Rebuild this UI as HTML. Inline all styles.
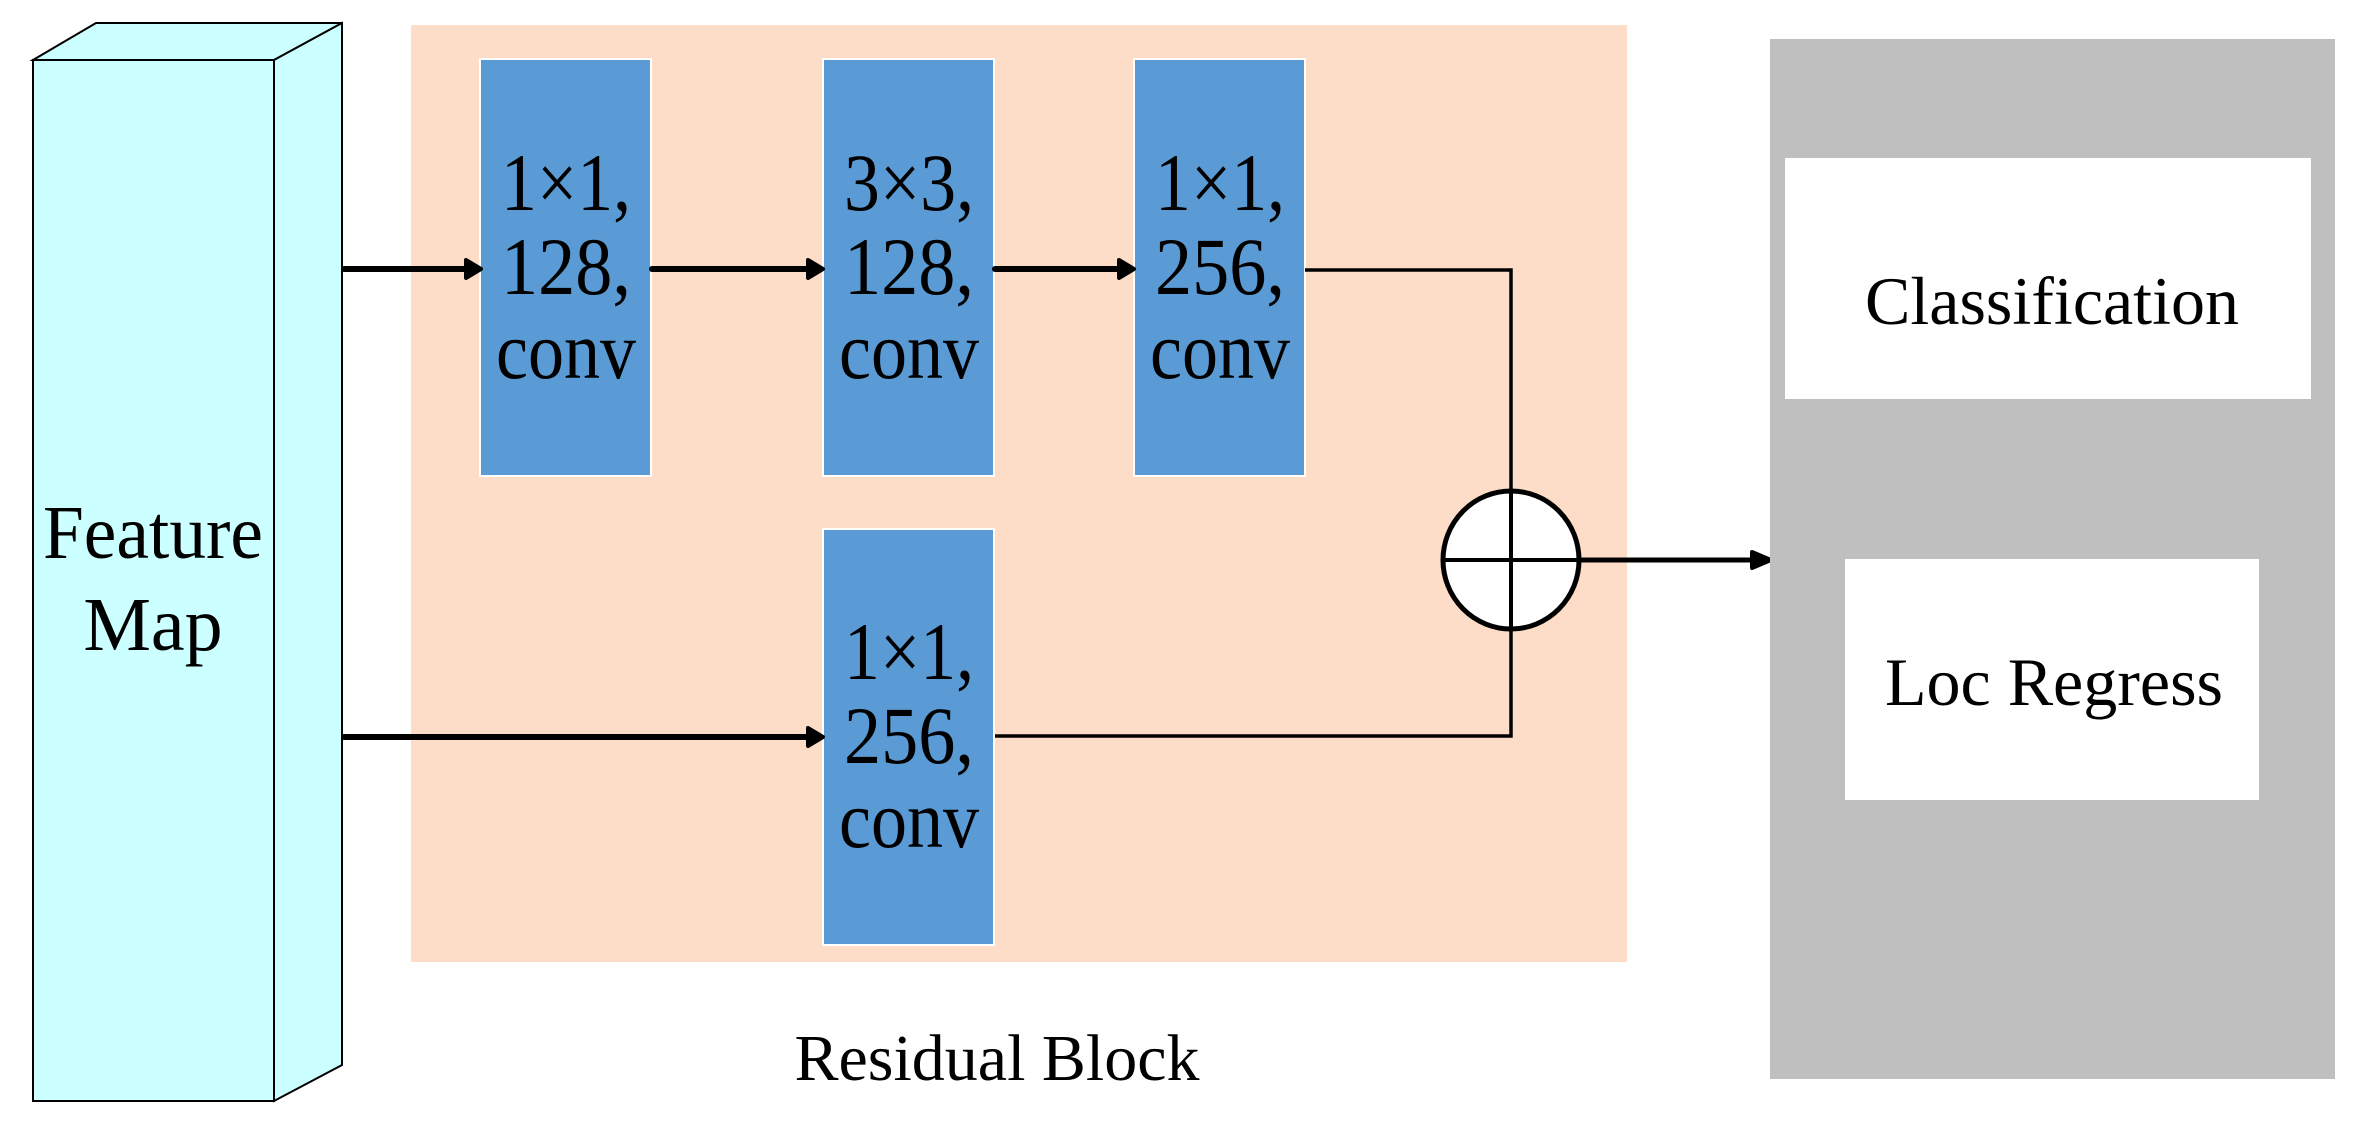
<!DOCTYPE html>
<html><head><meta charset="utf-8"><style>
html,body{margin:0;padding:0;background:#fff;}
svg{display:block;}
text{font-family:"Liberation Serif","Times New Roman",serif;fill:#000;}
</style></head><body>
<svg width="2358" height="1126" viewBox="0 0 2358 1126" xmlns="http://www.w3.org/2000/svg">
<!-- Feature map prism -->
<polygon points="33,60 96,23 342,23 274,60" fill="#ccffff" stroke="#000" stroke-width="2"/>
<polygon points="274,60 342,23 342,1065 274,1101" fill="#ccffff" stroke="#000" stroke-width="2"/>
<rect x="33" y="60" width="241" height="1041" fill="#ccffff" stroke="#000" stroke-width="2"/>
<g font-family="Liberation Serif, Times New Roman, serif">
<text x="153" y="558" font-size="76" text-anchor="middle" textLength="220" lengthAdjust="spacingAndGlyphs">Feature</text>
<text x="153" y="650" font-size="76" text-anchor="middle">Map</text>
</g>

<!-- Residual block background -->
<rect x="411" y="25" width="1216" height="937" fill="#fddcc8"/>
<!-- Blue boxes -->
<rect x="480" y="59" width="171" height="417" fill="#5b9bd5" stroke="#fff" stroke-width="2"/>
<rect x="823" y="59" width="171" height="417" fill="#5b9bd5" stroke="#fff" stroke-width="2"/>
<rect x="1134" y="59" width="171" height="417" fill="#5b9bd5" stroke="#fff" stroke-width="2"/>
<rect x="823" y="529" width="171" height="416" fill="#5b9bd5" stroke="#fff" stroke-width="2"/>
<g font-size="82" text-anchor="middle" font-family="Liberation Serif, Times New Roman, serif">
<text x="566" y="210" textLength="130" lengthAdjust="spacingAndGlyphs">1×1,</text><text x="566" y="294" textLength="130" lengthAdjust="spacingAndGlyphs">128,</text><text x="566" y="378" textLength="140" lengthAdjust="spacingAndGlyphs">conv</text>
<text x="909" y="210" textLength="130" lengthAdjust="spacingAndGlyphs">3×3,</text><text x="909" y="294" textLength="130" lengthAdjust="spacingAndGlyphs">128,</text><text x="909" y="378" textLength="140" lengthAdjust="spacingAndGlyphs">conv</text>
<text x="1220" y="210" textLength="130" lengthAdjust="spacingAndGlyphs">1×1,</text><text x="1220" y="294" textLength="130" lengthAdjust="spacingAndGlyphs">256,</text><text x="1220" y="378" textLength="140" lengthAdjust="spacingAndGlyphs">conv</text>
<text x="909" y="679" textLength="130" lengthAdjust="spacingAndGlyphs">1×1,</text><text x="909" y="763" textLength="130" lengthAdjust="spacingAndGlyphs">256,</text><text x="909" y="847" textLength="140" lengthAdjust="spacingAndGlyphs">conv</text>
</g>

<!-- Thick arrows -->
<g stroke="#000" stroke-width="6" stroke-linecap="round" fill="#000" stroke-linejoin="round">
<line x1="344" y1="269" x2="466" y2="269"/><polygon points="466,260 481,269 466,278" stroke-width="4"/>
<line x1="652" y1="269" x2="808" y2="269"/><polygon points="808,260 823,269 808,278" stroke-width="4"/>
<line x1="995" y1="269" x2="1119" y2="269"/><polygon points="1119,260 1134,269 1119,278" stroke-width="4"/>
<line x1="344" y1="737" x2="808" y2="737"/><polygon points="808,728 823,737 808,746" stroke-width="4"/>
<line x1="1580" y1="560" x2="1755" y2="560" stroke-width="5"/><polygon points="1752,552 1771,560 1752,568" stroke-width="4"/>
</g>
<!-- Thin connectors -->
<g stroke="#000" stroke-width="3.5" fill="none">
<polyline points="1305,270 1511,270 1511,490"/>
<polyline points="995,736 1511,736 1511,630"/>
</g>
<!-- Sum circle -->
<ellipse cx="1511" cy="560" rx="68" ry="69" fill="#fff" stroke="#000" stroke-width="5"/>
<line x1="1443" y1="560" x2="1579" y2="560" stroke="#000" stroke-width="4"/>
<line x1="1511" y1="491" x2="1511" y2="629" stroke="#000" stroke-width="4"/>

<text x="997" y="1080" font-size="66" text-anchor="middle" font-family="Liberation Serif, Times New Roman, serif">Residual Block</text>

<!-- Head -->
<rect x="1770" y="39" width="565" height="1040" fill="#bfbfbf"/>
<rect x="1785" y="158" width="526" height="241" fill="#fff"/>
<rect x="1845" y="559" width="414" height="241" fill="#fff"/>
<text x="2052" y="324" font-size="68" text-anchor="middle" font-family="Liberation Serif, Times New Roman, serif">Classification</text>
<text x="2054" y="705" font-size="68" text-anchor="middle" font-family="Liberation Serif, Times New Roman, serif">Loc Regress</text>
</svg>
</body></html>
